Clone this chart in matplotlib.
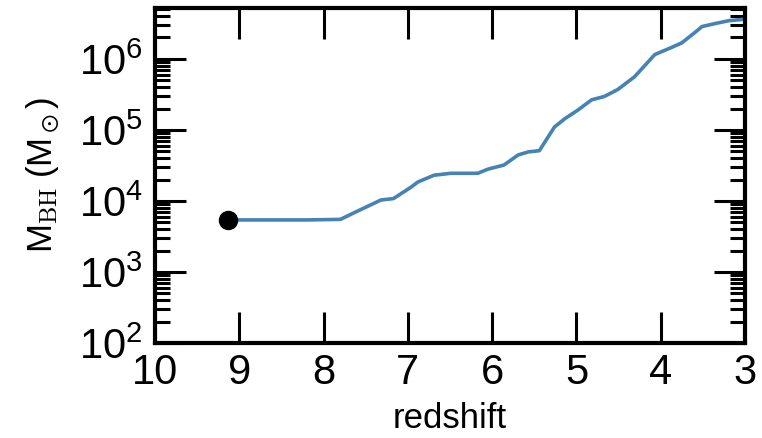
import matplotlib
matplotlib.use('Agg')
import matplotlib.pyplot as plt
from matplotlib.ticker import LogLocator, FixedLocator

plt.rcParams['font.family'] = ['Liberation Sans', 'DejaVu Sans']
plt.rcParams['mathtext.fontset'] = 'cm'
plt.rcParams['mathtext.default'] = 'regular'

# black hole growth history
redshift = [9.13, 8.60, 8.20, 7.80, 7.64, 7.32, 7.17, 6.96, 6.88, 6.69, 6.49,
            6.17, 6.05, 5.86, 5.69, 5.57, 5.44, 5.26, 5.14, 4.98, 4.82, 4.67,
            4.51, 4.31, 4.07, 3.87, 3.75, 3.60, 3.51, 3.35, 3.19, 3.02]
m_bh = [5.4e3, 5.4e3, 5.4e3, 5.5e3, 6.8e3, 1.03e4, 1.08e4, 1.57e4, 1.85e4,
        2.3e4, 2.45e4, 2.45e4, 2.8e4, 3.2e4, 4.45e4, 4.9e4, 5.1e4, 1.1e5,
        1.43e5, 1.91e5, 2.65e5, 2.95e5, 3.7e5, 5.6e5, 1.15e6, 1.45e6, 1.68e6,
        2.32e6, 2.85e6, 3.15e6, 3.45e6, 3.6e6]
seed_z = [9.13]
seed_m = [5.4e3]
x_ticks = [10, 9, 8, 7, 6, 5, 4, 3]

fig = plt.figure(figsize=(7.62, 4.38), dpi=100)
ax = fig.add_axes([155 / 762., 1 - 343 / 438., (745 - 155) / 762., (343 - 8) / 438.])

ax.plot(redshift, m_bh, color='#4682b4', lw=2.6, solid_capstyle='round', zorder=2)
ax.plot(seed_z, seed_m, 'o', color='k', ms=13, zorder=3)

ax.set_yscale('log')
ax.set_xlim(10, 3)
ax.set_ylim(1e2, 5.2e6)
ax.xaxis.set_major_locator(FixedLocator(x_ticks))
ax.xaxis.set_minor_locator(FixedLocator([]))
ax.yaxis.set_major_locator(LogLocator(base=10, numticks=10))
ax.yaxis.set_minor_locator(LogLocator(base=10, subs=range(2, 10), numticks=10))
ax.set_xticklabels([str(v) for v in x_ticks])

for sp in ax.spines.values():
    sp.set_linewidth(3)
ax.tick_params(which='both', direction='in', top=True, right=True, labelsize=30, width=2.2)
ax.tick_params(which='major', length=22)
ax.tick_params(which='minor', length=11)
ax.tick_params(axis='x', pad=7)
ax.tick_params(axis='y', pad=9)

ax.set_xlabel('redshift', fontsize=25, labelpad=7)
ax.set_ylabel(r'M$_{\rm BH}$ (M$_\odot$)', fontsize=25, labelpad=12)

plt.savefig('out.png', dpi=100)
